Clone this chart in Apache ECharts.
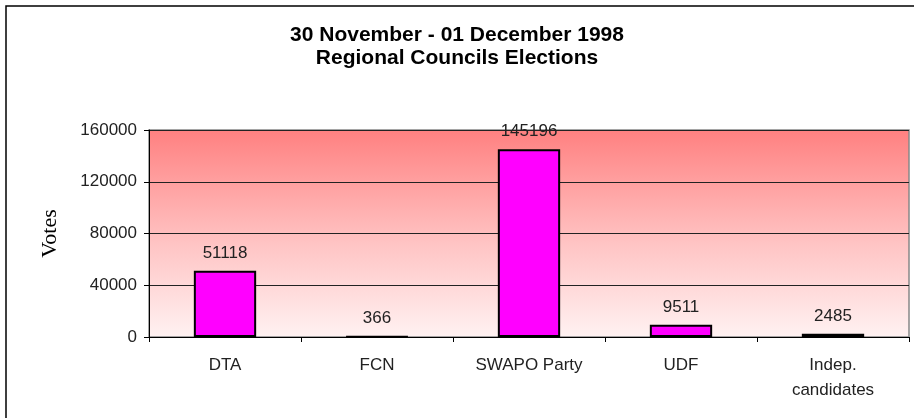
<!DOCTYPE html>
<html>
<head>
<meta charset="utf-8">
<script src="https://cdn.jsdelivr.net/npm/echarts@6/dist/echarts.min.js"></script>
<style>
html, body { margin: 0; padding: 0; background: #fff; }
#chart { width: 914px; height: 418px; }
</style>
</head>
<body>
<div id="chart"></div>
<script>
// data
var parties = ['DTA', 'FCN', 'SWAPO Party', 'UDF', 'Indep.\ncandidates']
var votes = [51118, 366, 145196, 9511, 2485]
var yTicks = [0, 40000, 80000, 120000, 160000]

var myChart = echarts.init(document.getElementById('chart'))

var options = {
    animation: false,
    title: {
        text: '30 November - 01 December 1998\nRegional Councils Elections',
        left: 'center',
        top: 19,
        textStyle: {
            fontFamily: 'Liberation Sans, Arial, sans-serif',
            fontSize: 21,
            fontWeight: 'bold',
            color: '#000',
            lineHeight: 23
        }
    },
    graphic: [
        {
            type: 'rect',
            shape: { x: 6, y: 6, width: 930, height: 440 },
            style: { fill: 'none', stroke: '#000', lineWidth: 1.5 },
            silent: true
        }
    ],
    grid: {
        left: 149,
        right: 5,
        top: 130,
        bottom: 81,
        show: true,
        borderColor: '#888',
        borderWidth: 1.5,
        backgroundColor: new echarts.graphic.LinearGradient(0, 0, 0, 1, [
            { offset: 0, color: '#ff8080' },
            { offset: 0.55, color: '#ffc4c4' },
            { offset: 1, color: '#fff2f2' }
        ])
    },
    xAxis: {
        type: 'category',
        data: parties,
        axisLine: { lineStyle: { color: '#000', width: 1 } },
        axisTick: { show: true, length: 5, lineStyle: { color: '#000' } },
        axisLabel: {
            color: '#222',
            fontFamily: 'Liberation Sans, Arial, sans-serif',
            fontSize: 17,
            lineHeight: 25,
            margin: 16
        }
    },
    yAxis: {
        type: 'value',
        min: yTicks[0],
        max: yTicks[yTicks.length - 1],
        interval: yTicks[1] - yTicks[0],
        name: 'Votes',
        nameLocation: 'middle',
        nameGap: 88,
        nameTextStyle: {
            fontFamily: 'Liberation Serif, Times New Roman, serif',
            fontSize: 22,
            color: '#000'
        },
        axisLine: { show: true, lineStyle: { color: '#000', width: 1 } },
        axisTick: { show: true, length: 5, lineStyle: { color: '#000' } },
        axisLabel: {
            color: '#222',
            fontFamily: 'Liberation Sans, Arial, sans-serif',
            fontSize: 17,
            margin: 12,
            formatter: function (v) { return String(v) }
        },
        splitLine: { show: true, lineStyle: { color: '#222', width: 1 } }
    },
    series: [
        {
            name: 'Votes',
            type: 'bar',
            data: votes,
            barWidth: '41%',
            itemStyle: {
                color: '#ff00ff',
                borderColor: '#000',
                borderWidth: 2
            },
            label: {
                show: true,
                position: 'top',
                distance: 9,
                color: '#222',
                fontFamily: 'Liberation Sans, Arial, sans-serif',
                fontSize: 17
            }
        }
    ]
}

myChart.setOption(options)
</script>
</body>
</html>
